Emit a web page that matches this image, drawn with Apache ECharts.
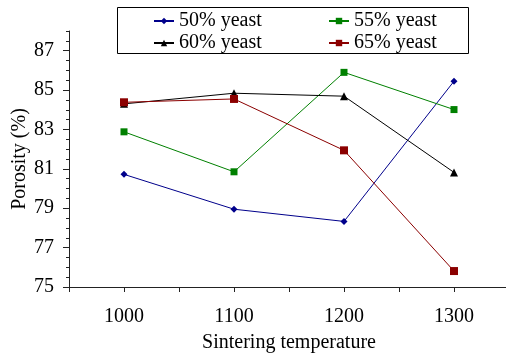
<!DOCTYPE html>
<html>
<head>
<meta charset="utf-8">
<script src="https://cdn.jsdelivr.net/npm/echarts@6/dist/echarts.min.js"></script>
<style>
  html, body { margin: 0; padding: 0; background: #fff; }
  #chart { width: 506px; height: 358px; }
</style>
</head>
<body>
<div id="chart"></div>
<script>
// sintering temperatures (x) and porosity (%) per yeast content
const temps = [1000, 1100, 1200, 1300]
const yeast50 = [80.72, 78.95, 78.33, 85.45]
const yeast55 = [82.88, 80.85, 85.9, 84.01]
const yeast60 = [84.3, 84.84, 84.69, 80.82]
const yeast65 = [84.38, 84.55, 81.94, 75.81]
const yTickLabels = [75, 77, 79, 81, 83, 85, 87]
const xTickLabels = [1000, 1100, 1200, 1300]

const font = '"Liberation Serif", "Times New Roman", serif'

const chart = echarts.init(document.getElementById('chart'))

function pairs(ys) {
  return temps.map((t, i) => [t, ys[i]])
}

function line(name, ys, color, symbol, size) {
  return {
    name: name,
    type: 'line',
    data: pairs(ys),
    symbol: symbol,
    symbolSize: size,
    lineStyle: { color: color, width: 1 },
    itemStyle: { color: color },
    animation: false
  }
}

// one legend per slot so the two columns line up like the original
function legendAt(name, left, top) {
  return {
    data: [name],
    left: left,
    top: top,
    padding: 0,
    itemWidth: 20,
    itemHeight: 8,
    textStyle: { fontFamily: font, fontSize: 20, color: '#000' }
  }
}

chart.setOption({
  backgroundColor: '#fff',
  grid: { left: 69, top: 31, width: 440, height: 256, outerBoundsMode: 'none' },
  legend: [
    legendAt('50% yeast', 153, 11),
    legendAt('55% yeast', 328, 11),
    legendAt('60% yeast', 153, 33),
    legendAt('65% yeast', 328, 33)
  ],
  graphic: [
    {
      type: 'rect',
      shape: { x: 117.5, y: 7.5, width: 351, height: 46 },
      style: { fill: 'none', stroke: '#000', lineWidth: 1 }
    }
  ],
  xAxis: {
    type: 'value',
    min: 950,
    max: 1350,
    interval: 50,
    name: 'Sintering temperature',
    nameLocation: 'middle',
    nameGap: 46,
    nameTextStyle: { fontFamily: font, fontSize: 20, color: '#000' },
    axisLine: { lineStyle: { color: '#222' } },
    axisTick: { inside: false, length: 5, lineStyle: { color: '#222' } },
    axisLabel: {
      margin: 20,
      fontFamily: font,
      fontSize: 20,
      color: '#000',
      formatter: v => (xTickLabels.indexOf(v) >= 0 ? String(v) : '')
    },
    splitLine: { show: false }
  },
  yAxis: [
    {
      type: 'value',
      min: 75,
      max: 88,
      interval: 0.5,
      name: 'Porosity (%)',
      nameLocation: 'middle',
      nameGap: 39,
      nameMoveOverlap: false,
      nameTextStyle: { fontFamily: font, fontSize: 20, color: '#000' },
      axisLine: { show: true, lineStyle: { color: '#222' } },
      axisTick: { length: 3, lineStyle: { color: '#222' } },
      axisLabel: {
        customValues: yTickLabels,
        margin: 15,
        fontFamily: font,
        fontSize: 20,
        color: '#000'
      },
      splitLine: { show: false }
    },
    {
      // longer ticks at the labelled values
      type: 'value',
      position: 'left',
      min: 75,
      max: 88,
      interval: 0.5,
      axisLine: { show: false },
      axisTick: { customValues: yTickLabels, length: 6, lineStyle: { color: '#222' } },
      axisLabel: { show: false },
      splitLine: { show: false }
    }
  ],
  series: [
    line('50% yeast', yeast50, '#00008b', 'diamond', 7),
    line('55% yeast', yeast55, '#008000', 'rect', 7),
    line('60% yeast', yeast60, '#000000', 'triangle', 8),
    line('65% yeast', yeast65, '#8b0000', 'rect', 8)
  ]
})
</script>
</body>
</html>
